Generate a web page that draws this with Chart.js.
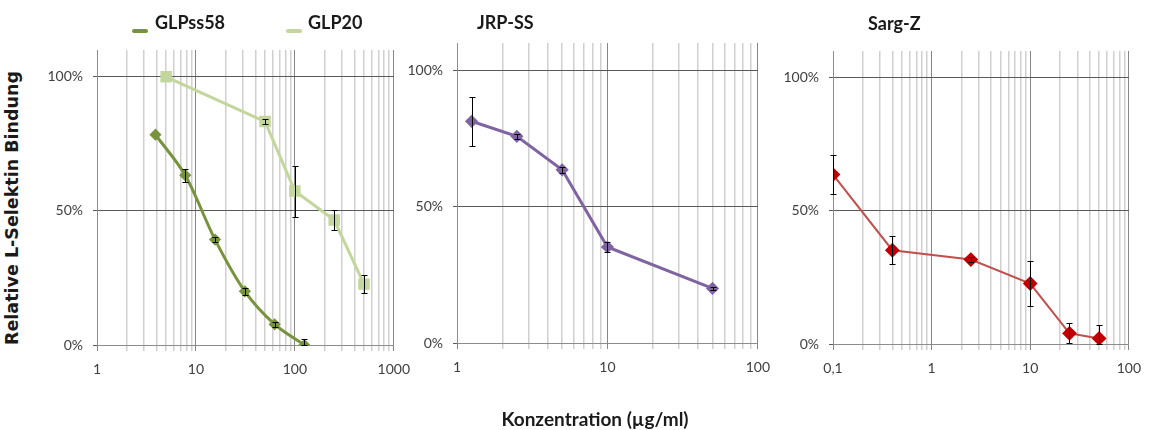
<!DOCTYPE html>
<html>
<head>
<meta charset="utf-8">
<script src="https://cdn.jsdelivr.net/npm/chart.js@4.4.1/dist/chart.umd.min.js"></script>
<style>
body { margin: 0; background: #fff; width: 1151px; height: 430px; overflow: hidden; position: relative; font-family: Lato, "Open Sans", sans-serif; }
canvas { position: absolute; top: 0; }
.t { position: absolute; font-weight: bold; color: #1a1a1a; white-space: nowrap; line-height: 1; }
.key { position: absolute; height: 4px; border-radius: 2px; }
</style>
</head>
<body>
<canvas id="p1" width="390" height="400" style="left:30px"></canvas>
<canvas id="p2" width="390" height="400" style="left:390px"></canvas>
<canvas id="p3" width="386" height="400" style="left:765px"></canvas>

<div class="key" style="left:132px;top:29px;width:16px;background:#77933C"></div>
<div class="t" style="left:155px;top:13px;font-size:18px">GLPss58</div>
<div class="key" style="left:286px;top:29px;width:16px;background:#C3D69B"></div>
<div class="t" style="left:308px;top:13px;font-size:18px">GLP20</div>
<div class="t" style="left:477px;top:13px;font-size:18px">JRP-SS</div>
<div class="t" style="left:868px;top:14px;font-size:18px">Sarg-Z</div>
<div class="t" style="left:13px;top:208px;font-size:17.5px;font-family:'DejaVu Sans',sans-serif;transform:translate(-50%,-50%) rotate(-90deg)">Relative L-Selektin Bindung</div>
<div class="t" style="left:595px;top:418px;font-size:19px;transform:translate(-50%,-50%)">Konzentration (µg/ml)</div>

<script>
// GLPss58 / GLP20 (panel 1)
const glpssX = [3.9, 7.8, 15.6, 31.25, 62.5, 125];
const glpssY = [78.4, 63.3, 39.3, 20, 7.7, 0];
const glpssErr = [0, 2.5, 1, 1.2, 1, 2.2];
const glp20X = [5, 50, 100, 250, 500];
const glp20Y = [100, 83.3, 57.4, 46.6, 22.7];
const glp20Err = [0, 1, 9.5, 3.8, 3.4];

// JRP-SS (panel 2)
const jrpX = [1.25, 2.5, 5, 10, 50];
const jrpY = [81.3, 75.8, 63.5, 35.2, 20];
const jrpErr = [9, 1, 1.2, 1.8, 0.5];

// Sarg-Z (panel 3)
const sargX = [0.1, 0.4, 2.5, 10, 25, 50];
const sargY = [63.6, 35.2, 31.7, 22.7, 4, 2.1];
const sargErr = [7.2, 5.2, 1, 8.3, 3.7, 4.9];

const yTicks = [0, 50, 100];

function isDecade(v) {
    const l = Math.log10(v);
    return Math.abs(l - Math.round(l)) < 1e-6;
}

function logTicks(min, max) {
    const out = [];
    for (let d = Math.round(Math.log10(min)); d < Math.round(Math.log10(max)); d++) {
        for (let m = 1; m < 10; m++) out.push(Number((m * Math.pow(10, d)).toPrecision(3)));
    }
    out.push(max);
    return out;
}

function pts(xs, ys) {
    return xs.map((x, i) => ({ x: x, y: ys[i] }));
}

// simple error bar plugin
const errorBars = {
    id: 'errorBars',
    afterDatasetsDraw(chart) {
        const ctx = chart.ctx, sx = chart.scales.x, sy = chart.scales.y;
        ctx.save();
        ctx.strokeStyle = '#000';
        ctx.lineWidth = 1;
        chart.data.datasets.forEach(ds => {
            (ds.err || []).forEach((e, i) => {
                if (!e) return;
                const p = ds.data[i];
                const px = Math.round(sx.getPixelForValue(p.x)) + 0.5;
                const top = Math.round(sy.getPixelForValue(p.y + e)) + 0.5;
                const bot = Math.round(sy.getPixelForValue(Math.max(p.y - e, 0))) + 0.5;
                ctx.beginPath();
                ctx.moveTo(px, top); ctx.lineTo(px, bot);
                ctx.moveTo(px - 3, top); ctx.lineTo(px + 3, top);
                ctx.moveTo(px - 3, bot); ctx.lineTo(px + 3, bot);
                ctx.stroke();
            });
        });
        ctx.restore();
    }
};

const tickFont = { family: 'Lato, "Open Sans", sans-serif', size: 14 };

function makePanel(id, xMin, xMax, datasets, pad) {
    new Chart(id, {
        type: 'line',
        data: { datasets: datasets },
        plugins: [errorBars],
        options: {
            responsive: false,
            animation: false,
            layout: { padding: pad },
            plugins: { legend: { display: false }, tooltip: { enabled: false } },
            scales: {
                x: {
                    type: 'logarithmic',
                    min: xMin,
                    max: xMax,
                    afterBuildTicks: s => { s.ticks = logTicks(xMin, xMax).map(v => ({ value: v })); },
                    afterFit: s => { s.height = 35; },
                    grid: {
                        color: c => (c.tick && isDecade(c.tick.value)) ? '#868686' : '#d0d0d0',
                        lineWidth: c => (c.tick && isDecade(c.tick.value)) ? 1 : 1.5,
                        tickLength: 6
                    },
                    border: { color: '#8c8c8c' },
                    ticks: {
                        autoSkip: false,
                        maxRotation: 0,
                        padding: 10,
                        color: '#404040',
                        font: tickFont,
                        callback: v => isDecade(v) ? String(v).replace('.', ',') : ''
                    }
                },
                y: {
                    min: 0,
                    max: 110,
                    afterBuildTicks: s => { s.ticks = yTicks.map(v => ({ value: v })); },
                    afterFit: s => { s.width = 60; },
                    grid: { color: '#595959', tickLength: 4 },
                    border: { color: '#8c8c8c' },
                    ticks: {
                        padding: 10,
                        color: '#404040',
                        font: tickFont,
                        callback: v => v + '%'
                    }
                }
            }
        }
    });
}

makePanel('p1', 1, 1000, [
    {
        label: 'GLPss58', data: pts(glpssX, glpssY), err: glpssErr,
        borderColor: '#77933C', backgroundColor: '#77933C', pointBorderColor: '#77933C', borderWidth: 3,
        pointStyle: 'rectRot', pointRadius: 4, tension: 0.3
    },
    {
        label: 'GLP20', data: pts(glp20X, glp20Y), err: glp20Err,
        borderColor: '#C3D69B', backgroundColor: '#C3D69B', pointBorderColor: '#C3D69B', borderWidth: 3,
        pointStyle: 'rect', pointRadius: 6, tension: 0
    }
], { left: 7, right: 23, top: 50, bottom: 20 });

makePanel('p2', 1, 100, [
    {
        label: 'JRP-SS', data: pts(jrpX, jrpY), err: jrpErr,
        borderColor: '#8064A2', backgroundColor: '#8064A2', pointBorderColor: '#8064A2', borderWidth: 3,
        pointStyle: 'rectRot', pointRadius: 4.5, tension: 0
    }
], { left: 7, right: 16, top: 43, bottom: 22 });

makePanel('p3', 0.1, 100, [
    {
        label: 'Sarg-Z', data: pts(sargX, sargY), err: sargErr,
        borderColor: '#C0504D', backgroundColor: '#C00000', pointBorderColor: '#C00000', borderWidth: 2,
        pointStyle: 'rectRot', pointRadius: 6, tension: 0
    }
], { left: 8, right: 15, top: 51, bottom: 21 });
</script>
</body>
</html>
